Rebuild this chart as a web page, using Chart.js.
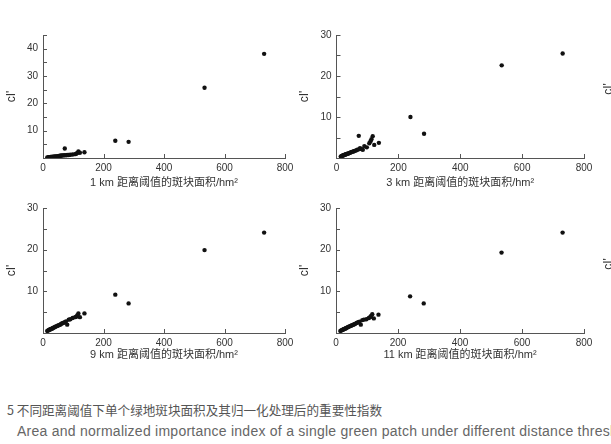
<!DOCTYPE html>
<html>
<head>
<meta charset="utf-8">
<script src="https://cdn.jsdelivr.net/npm/chart.js@4/dist/chart.umd.min.js"></script>
<style>
  html, body { margin: 0; padding: 0; background: #fff; width: 611px; height: 444px; overflow: hidden; position: relative; }
  .panel { position: absolute; }
  .cap { position: absolute; white-space: nowrap; color: #555; }
  .cut { position: absolute; transform: rotate(-90deg); font: 12px "Liberation Sans", sans-serif; color: #333; }
</style>
</head>
<body>
<div class="panel" style="left:0;top:24px"><canvas id="c1" width="300" height="168"></canvas></div>
<div class="panel" style="left:293px;top:24px"><canvas id="c2" width="306" height="168"></canvas></div>
<div class="panel" style="left:0;top:197px"><canvas id="c3" width="300" height="167"></canvas></div>
<div class="panel" style="left:293px;top:197px"><canvas id="c4" width="306" height="167"></canvas></div>
<span class="cut" style="left:602px;top:82px">cI'</span>
<span class="cut" style="left:602px;top:257px">cI'</span>
<div class="cap" style="left:7px;top:400px;font:12.6px 'Noto Sans CJK SC', sans-serif;">5 不同距离阈值下单个绿地斑块面积及其归一化处理后的重要性指数</div>
<div class="cap" style="left:17px;top:423px;font:14px 'Liberation Sans', sans-serif;color:#666;letter-spacing:0.25px;">Area and normalized importance index of a single green patch under different distance thresholds</div>
<script>
// patch areas (hm2), shared by all four panels
const areaValues = [14, 17, 19, 21, 23, 25, 27, 29, 31, 33, 36, 38, 41, 44, 47, 50, 53, 56, 59, 62, 66, 70, 72, 76, 80, 85, 90, 98, 106, 110, 113, 117, 122, 137, 239, 283, 534, 731];

// normalized importance index for each distance threshold
const ci1km = [0.2, 0.2, 0.25, 0.3, 0.3, 0.35, 0.35, 0.4, 0.4, 0.45, 0.5, 0.5, 0.55, 0.6, 0.6, 0.7, 0.75, 0.8, 0.85, 0.9, 0.95, 1.0, 3.5, 1.0, 1.1, 1.1, 1.2, 1.3, 1.4, 1.6, 1.8, 2.4, 1.9, 2.1, 6.3, 5.9, 25.7, 38.1];
const ci3km = [0.4, 0.5, 0.55, 0.6, 0.7, 0.75, 0.8, 0.85, 0.9, 1.0, 1.05, 1.1, 1.2, 1.3, 1.4, 1.5, 1.55, 1.65, 1.75, 1.8, 1.95, 2.1, 5.4, 2.4, 2.2, 2.0, 2.9, 2.6, 3.6, 4.1, 4.6, 5.3, 3.2, 3.7, 10.0, 5.9, 22.6, 25.5];
const ci9km = [0.5, 0.6, 0.7, 0.8, 0.85, 0.9, 1.0, 1.05, 1.1, 1.2, 1.3, 1.4, 1.5, 1.6, 1.7, 1.8, 1.9, 2.0, 2.1, 2.3, 2.4, 2.5, 2.6, 2.8, 2.0, 3.2, 3.3, 3.6, 3.8, 3.9, 4.2, 4.7, 3.8, 4.7, 9.2, 7.1, 19.9, 24.1];
const ci11km = [0.5, 0.6, 0.7, 0.75, 0.85, 0.9, 1.0, 1.05, 1.1, 1.2, 1.3, 1.4, 1.5, 1.6, 1.7, 1.8, 1.9, 2.0, 2.1, 2.2, 2.4, 2.5, 2.6, 2.7, 2.0, 3.1, 3.2, 3.3, 3.6, 3.8, 4.1, 4.5, 3.5, 4.4, 8.8, 7.1, 19.3, 24.1];

const xTicks = [0, 200, 400, 600, 800];
const yMaxes = [45, 30, 30, 30];
const xTitles = ['1 km 距离阈值的斑块面积/hm²', '3 km 距离阈值的斑块面积/hm²', '9 km 距离阈值的斑块面积/hm²', '11 km 距离阈值的斑块面积/hm²'];
const yTitle = "cI'";

const tickFont = { family: "'Liberation Sans', sans-serif", size: 10 };
const titleFont = { family: "'Liberation Sans', 'Noto Sans CJK SC', sans-serif", size: 11 };

// ticks pointing into the plot, like the original
const inTicks = {
  id: 'inTicks',
  afterDraw(chart) {
    const ctx = chart.ctx, xs = chart.scales.x, ys = chart.scales.y;
    ctx.save();
    ctx.strokeStyle = '#555';
    ctx.lineWidth = 1;
    ctx.beginPath();
    xs.ticks.forEach(t => {
      if (t.value === 0) return;
      const px = Math.round(xs.getPixelForValue(t.value)) + 0.5;
      ctx.moveTo(px, xs.top); ctx.lineTo(px, xs.top - 4);
    });
    ys.ticks.forEach(t => {
      if (t.value === 0) return;
      const py = Math.round(ys.getPixelForValue(t.value)) + 0.5;
      ctx.moveTo(ys.right, py); ctx.lineTo(ys.right + 4, py);
    });
    ctx.stroke();
    ctx.restore();
  }
};

function makePanel(id, values, yMax, xTitle, yWidth, xHeight) {
  new Chart(document.getElementById(id), {
    type: 'scatter',
    data: {
      datasets: [{
        data: areaValues.map((a, i) => ({ x: a, y: values[i] })),
        backgroundColor: '#111',
        borderWidth: 0,
        pointRadius: 2.2
      }]
    },
    options: {
      responsive: false,
      animation: false,
      layout: { padding: { top: 8, right: 15, left: 0, bottom: 0 } },
      plugins: { legend: { display: false }, tooltip: { enabled: false } },
      scales: {
        x: {
          type: 'linear', min: 0, max: 800,
          afterBuildTicks: s => { s.ticks = xTicks.map(v => ({ value: v })); },
          ticks: { font: tickFont, color: '#333', padding: 4, maxRotation: 0, autoSkip: false },
          grid: { display: false, drawTicks: false },
          border: { display: true, color: '#555' },
          title: { display: true, text: xTitle, font: titleFont, color: '#333', padding: { top: 0, bottom: 2 } },
          afterFit: s => { s.height = xHeight; }
        },
        y: {
          type: 'linear', min: 0, max: yMax,
          ticks: {
            stepSize: 5, autoSkip: false, font: tickFont, color: '#333', padding: 5,
            callback: v => (v % 10 === 0 && v > 0) ? v : ''
          },
          grid: { display: false, drawTicks: false },
          border: { display: true, color: '#555' },
          title: { display: true, text: yTitle, font: { family: "'Liberation Sans', sans-serif", size: 12 }, color: '#333', padding: { top: 4, bottom: 0 } },
          afterFit: s => { s.width = yWidth; }
        }
      }
    },
    plugins: [inTicks]
  });
}

makePanel('c1', ci1km, yMaxes[0], xTitles[0], 43, 34);
makePanel('c2', ci3km, yMaxes[1], xTitles[1], 43.5, 34);
makePanel('c3', ci9km, yMaxes[2], xTitles[2], 43, 31);
makePanel('c4', ci11km, yMaxes[3], xTitles[3], 43, 31);
</script>
</body>
</html>
